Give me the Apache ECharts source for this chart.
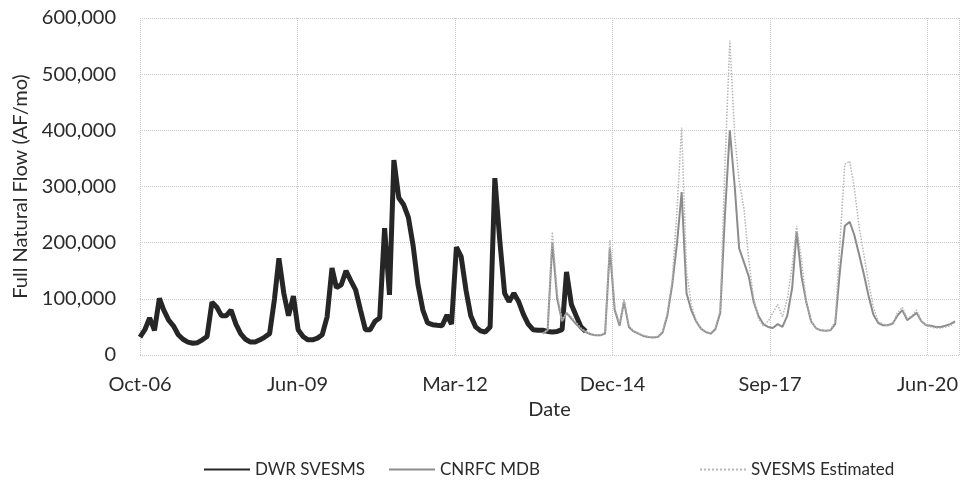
<!DOCTYPE html>
<html>
<head>
<meta charset="utf-8">
<script src="https://cdn.jsdelivr.net/npm/echarts@6/dist/echarts.min.js"></script>
<style>
  html, body { margin: 0; padding: 0; background: #fff; }
  #chart { width: 962px; height: 488px; }
</style>
</head>
<body>
<div id="chart"></div>
<script>
// monthly full natural flow, thousand AF/mo
const dwrStart = [2006, 10]   // Oct-06
const dwrFlow = [
  32, 45, 66, 44, 101, 80, 62, 52, 36, 28, 23, 21,
  22, 27, 33, 94, 85, 70, 70, 80, 55, 38, 28, 23,
  23, 27, 32, 38, 100, 172, 110, 70, 105, 45, 33, 27,
  27, 30, 36, 68, 155, 120, 125, 150, 132, 116, 80, 45,
  45, 60, 66, 226, 107, 347, 280, 268, 245, 195, 125, 80,
  57, 54, 53, 52, 71, 55, 192, 175, 115, 70, 50, 43,
  41, 50, 315, 205, 110, 95, 110, 95, 72, 55, 45, 44,
  44, 42, 41, 42, 45, 148, 90, 70, 50, 42
]

const gageStart = [2013, 10]  // Oct-13
const cnrfcFlow = [
  38, 44, 200, 100, 60, 75, 65, 55, 46, 41, 37, 35,
  35, 38, 190, 80, 52, 95, 50, 42, 38, 34, 32, 31,
  32, 40, 70, 125, 200, 290, 110, 80, 60, 47, 41, 38,
  46, 75, 250, 400, 300, 190, 165, 140, 95, 70, 55, 50,
  48, 55, 50, 70, 120, 220, 140, 95, 60, 48, 44, 43,
  44, 55, 150, 230, 237, 215, 180, 145, 105, 72, 57, 53,
  53, 56, 70, 80, 62, 68, 75, 60, 53, 52, 50, 50,
  52, 55, 60
]
const estFlow = [
  38, 45, 219, 110, 62, 75, 68, 58, 48, 42, 38, 36,
  36, 40, 205, 85, 55, 100, 52, 43, 39, 35, 33, 32,
  33, 42, 75, 133, 260, 405, 150, 90, 62, 48, 42, 39,
  48, 80, 340, 560, 390, 310, 260, 170, 100, 65, 52, 60,
  75, 90, 68, 100, 160, 230, 170, 95, 60, 48, 44, 43,
  45, 60, 200, 340, 345, 300, 230, 180, 130, 85, 60, 55,
  52, 55, 75, 85, 65, 70, 80, 60, 52, 50, 48, 48,
  50, 52, 58
]

// date axis: ticks every 1000 days from 1-Oct-2006
const xTickLabels = ['Oct-06', 'Jun-09', 'Mar-12', 'Dec-14', 'Sep-17', 'Jun-20']
const seriesNames = ['DWR SVESMS', 'CNRFC MDB', 'SVESMS Estimated']

const DAY = 86400000
const t0 = Date.UTC(2006, 9, 1)

const toPoints = (start, values) => values.map((v, i) => {
  const t = Date.UTC(start[0], start[1] - 1 + i, 1)
  return [(t - t0) / DAY, v * 1000]
})

const font = 'Lato'
const textColor = '#2b2b2b'
const gridLine = { show: true, lineStyle: { color: '#c9c9c9', type: 'dotted', width: 1 } }

const chart = echarts.init(document.getElementById('chart'))

chart.setOption({
  backgroundColor: '#fff',
  animation: false,
  textStyle: { fontFamily: font },
  grid: { left: 140, right: 1, top: 18, bottom: 133 },
  xAxis: {
    type: 'value',
    min: 0,
    max: 5200,
    interval: 1000,
    name: 'Date',
    nameLocation: 'middle',
    nameGap: 44,
    nameTextStyle: { fontSize: 20, color: textColor, fontFamily: font },
    axisLine: { show: false },
    axisTick: { show: false },
    axisLabel: {
      margin: 20,
      fontSize: 20,
      color: textColor,
      fontFamily: font,
      formatter: v => (v % 1000 === 0 ? xTickLabels[v / 1000] || '' : '')
    },
    splitLine: gridLine
  },
  yAxis: {
    type: 'value',
    min: 0,
    max: 600000,
    interval: 100000,
    name: 'Full Natural Flow (AF/mo)',
    nameLocation: 'middle',
    nameGap: 106,
    nameTextStyle: { fontSize: 20, color: textColor, fontFamily: font },
    axisLine: { show: false },
    axisTick: { show: false },
    axisLabel: {
      margin: 24,
      fontSize: 20,
      color: textColor,
      fontFamily: font,
      formatter: v => v.toLocaleString('en-US')
    },
    splitLine: gridLine
  },
  legend: [
    { data: [seriesNames[0]], left: 198, top: 456 },
    { data: [seriesNames[1]], left: 383, top: 456 },
    { data: [seriesNames[2]], left: 694, top: 456 }
  ].map(l => Object.assign(l, {
    itemWidth: 46,
    itemHeight: 20,
    itemGap: 4,
    itemStyle: { color: 'transparent', borderWidth: 0 },
    textStyle: { fontSize: 17, color: textColor, fontFamily: font }
  })),
  series: [
    {
      name: seriesNames[0],
      type: 'line',
      data: toPoints(dwrStart, dwrFlow),
      showSymbol: false,
      symbol: 'none',
      lineStyle: { color: '#262626', width: 5 },
      itemStyle: { color: '#262626' },
      z: 3
    },
    {
      name: seriesNames[1],
      type: 'line',
      data: toPoints(gageStart, cnrfcFlow),
      showSymbol: false,
      symbol: 'none',
      lineStyle: { color: '#8c8c8c', width: 2 },
      itemStyle: { color: '#8c8c8c' },
      z: 4
    },
    {
      name: seriesNames[2],
      type: 'line',
      data: toPoints(gageStart, estFlow),
      showSymbol: false,
      symbol: 'none',
      lineStyle: { color: '#b5b5b5', width: 1.5, type: 'dotted' },
      itemStyle: { color: '#b5b5b5' },
      z: 5
    }
  ]
})
</script>
</body>
</html>
